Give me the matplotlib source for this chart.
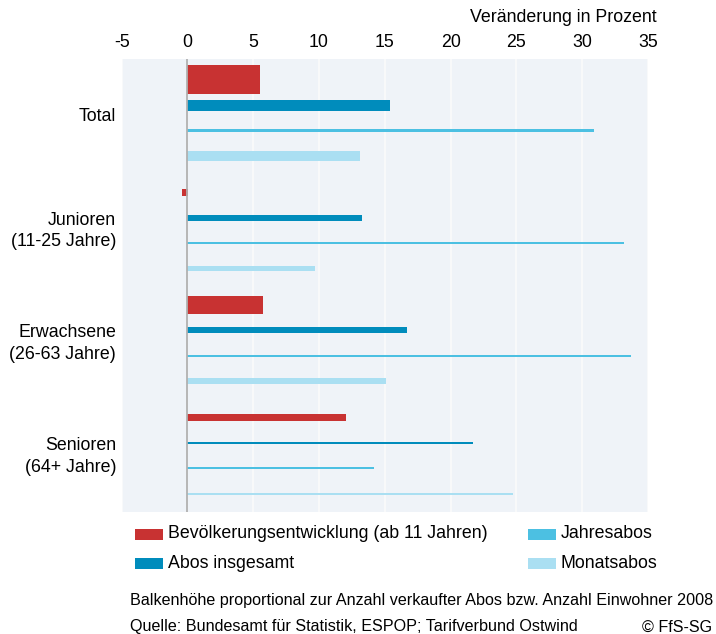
import matplotlib
matplotlib.use("Agg")
import matplotlib.pyplot as plt
from matplotlib.patches import Rectangle

plt.rcParams['font.family'] = ['Liberation Sans', 'DejaVu Sans']
plt.rcParams['axes.unicode_minus'] = False

# Daten (Veränderung in Prozent)
gruppen = ["Total", "Junioren\n(11-25 Jahre)", "Erwachsene\n(26-63 Jahre)", "Senioren\n(64+ Jahre)"]
serien = ["Bevölkerungsentwicklung (ab 11 Jahren)", "Abos insgesamt", "Jahresabos", "Monatsabos"]
bevoelkerung = [5.45, -0.4, 5.7, 12.0]
abos_insgesamt = [15.3, 13.2, 16.6, 21.6]
jahresabos = [30.8, 33.1, 33.6, 14.1]
monatsabos = [13.0, 9.6, 15.0, 24.7]

# Balkenhöhe proportional zur Anzahl (relative Werte)
hoehe_bevoelkerung = [27.6, 6.2, 17.2, 6.2]
hoehe_abos = [10.0, 4.8, 5.2, 1.0]
hoehe_jahr = [2.4, 1.0, 1.0, 1.0]
hoehe_monat = [9.0, 4.1, 5.2, 1.0]

farben = ["#c83232", "#008cbc", "#4cc0e2", "#aadff2"]

W, H = 716, 634
fig = plt.figure(figsize=(W / 100, H / 100), dpi=100)

def fx(px):
    return px / W

def fy(py):
    return 1 - py / H

ax = fig.add_axes([fx(121.7), fy(512), fx(648) - fx(121.7), fy(59) - fy(512)])
ax.set_facecolor("#eff3f8")

periode = 4.41
skala = 25.5
werte = [bevoelkerung, abos_insgesamt, jahresabos, monatsabos]
hoehen = [hoehe_bevoelkerung, hoehe_abos, hoehe_jahr, hoehe_monat]

for j in range(4):
    pos = [g * periode + j for g in range(len(gruppen))]
    hh = [h / skala for h in hoehen[j]]
    ax.barh(pos, werte[j], height=hh, color=farben[j], edgecolor=farben[j],
            zorder=3, linewidth=0.4, antialiased=False)

ax.set_xlim(-5, 35)
ax.set_ylim(3 * periode + 3 + 0.73, -0.79)
ax.set_xticks(range(-5, 36, 5))
ax.xaxis.tick_top()
ax.tick_params(axis="x", length=0, pad=6, labelsize=12.8)
ax.set_yticks([g * periode + 1.38 for g in range(len(gruppen))])
ax.set_yticklabels(gruppen, linespacing=1.35)
ax.tick_params(axis="y", length=0, pad=4, labelsize=12.8)
ax.grid(axis="x", color="#fbfbfb", linewidth=1.2, zorder=1)
ax.set_axisbelow(True)
ax.axvline(0, color="#b0b0b0", linewidth=1.3, zorder=4)
for s in ax.spines.values():
    s.set_visible(False)

fig.text(fx(657), fy(18), "Veränderung in Prozent", ha="right", va="center", fontsize=12.8)

# Legende
leg = [(135, 534, 0), (528, 534, 2), (135, 563, 1), (528, 563, 3)]
for x, y, j in leg:
    fig.add_artist(Rectangle((fx(x), fy(y + 5.5)), 28 / W, 11 / H, transform=fig.transFigure,
                             color=farben[j], linewidth=0))
    fig.text(fx(x + 33), fy(y), serien[j], ha="left", va="center", fontsize=12.8)

fig.text(fx(130), fy(600), "Balkenhöhe proportional zur Anzahl verkaufter Abos bzw. Anzahl Einwohner 2008",
         ha="left", va="center", fontsize=11.6)
fig.text(fx(130), fy(627), "Quelle: Bundesamt für Statistik, ESPOP; Tarifverbund Ostwind",
         ha="left", va="center", fontsize=11.6)
fig.text(fx(712), fy(627), "© FfS-SG", ha="right", va="center", fontsize=11.6)

fig.savefig("out.png", dpi=100)
